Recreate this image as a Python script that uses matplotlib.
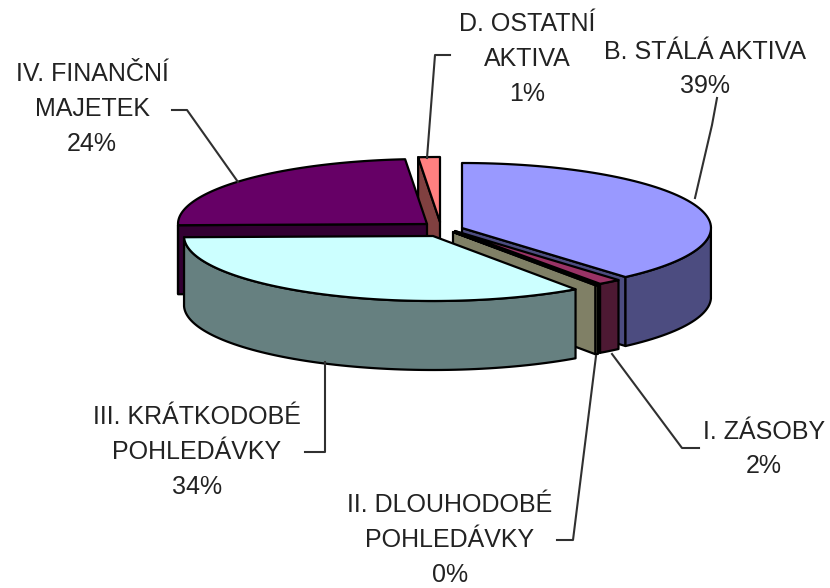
import numpy as np
import matplotlib
matplotlib.use("Agg")
import matplotlib.pyplot as plt

# %% data (share of the circle, clockwise from 12 o'clock)
names = ["B. STÁLÁ AKTIVA", "I. ZÁSOBY", "II. DLOUHODOBÉ\nPOHLEDÁVKY",
         "III. KRÁTKODOBÉ\nPOHLEDÁVKY", "IV. FINANČNÍ\nMAJETEK", "D. OSTATNÍ\nAKTIVA"]
shares = [38.6, 1.5, 0.2, 34.4, 23.9, 1.4]
pct_labels = ["39%", "2%", "0%", "34%", "24%", "1%"]

top_colors = ["#9999FF", "#993366", "#FFFFCC", "#CCFFFF", "#660066", "#FF8080"]
side_colors = ["#4C4C80", "#4D1933", "#808066", "#668080", "#330033", "#804040"]

# %% layout of the tilted pie, in pixels
RX, RY, DEPTH = 249, 65, 69
apex = [(462, 228), (455, 231), (453, 232), (433, 236), (427, 224), (440, 222)]
draw_order = [5, 4, 0, 1, 2, 3]

label_pos = [(705, 69), (764, 449), (450, 540), (197, 452), (92, 109), (527, 59)]
leaders = [[(695, 198), (712, 125), (717, 98)],
           [(612, 354), (682, 448), (699, 448)],
           [(596, 356), (573, 540), (557, 540)],
           [(325, 362), (325, 452), (305, 452)],
           [(238, 182), (187, 110), (172, 110)],
           [(427, 158), (435, 55), (450, 55)]]

fig = plt.figure(figsize=(8.3, 5.88), dpi=100)
ax = fig.add_axes([0, 0, 1, 1])
ax.set_xlim(0, 830)
ax.set_ylim(588, 0)
ax.axis("off")

edges = np.cumsum([0] + shares) / np.sum(shares) * 2 * np.pi


def rim(i, n=80):
    t = np.linspace(edges[i], edges[i + 1], n)
    return t, apex[i][0] + RX * np.sin(t), apex[i][1] - RY * np.cos(t)


def face(x, y, color):
    ax.fill(x, y, facecolor=color, edgecolor="black", lw=1.6, joinstyle="round")


for i in draw_order:
    ax0, ay0 = apex[i]
    t, x, y = rim(i)
    # radial walls, only those turned to the viewer
    if edges[i] > np.pi:
        face([ax0, x[0], x[0], ax0], [ay0, y[0], y[0] + DEPTH, ay0 + DEPTH], side_colors[i])
    if edges[i + 1] < np.pi:
        face([ax0, x[-1], x[-1], ax0], [ay0, y[-1], y[-1] + DEPTH, ay0 + DEPTH], side_colors[i])
    # outer wall, front part only
    front = (t > np.pi / 2) & (t < 3 * np.pi / 2)
    if front.any():
        xf, yf = x[front], y[front]
        face(np.r_[xf, xf[::-1]], np.r_[yf, yf[::-1] + DEPTH], side_colors[i])
    # top
    face(np.r_[ax0, x], np.r_[ay0, y], top_colors[i])

for pts in leaders:
    xs, ys = zip(*pts)
    ax.plot(xs, ys, color="#303030", lw=1.5)

for i in range(len(names)):
    ax.text(label_pos[i][0], label_pos[i][1], names[i] + "\n" + pct_labels[i],
            family="Liberation Sans", fontsize=18, ha="center", va="center",
            linespacing=1.56, color="#222222")

fig.savefig("out.png", dpi=100)
